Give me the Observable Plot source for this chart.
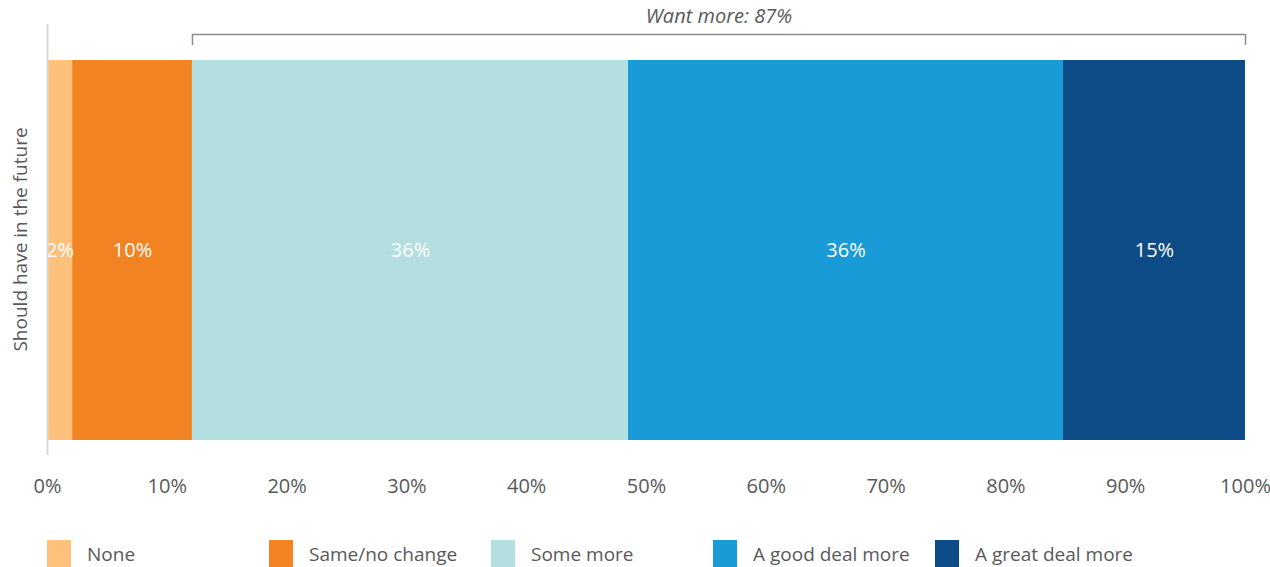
<!DOCTYPE html>
<html><head><meta charset="utf-8">
<script src="https://cdn.jsdelivr.net/npm/d3@7"></script>
<script src="https://cdn.jsdelivr.net/npm/@observablehq/plot@0.6"></script>
<style>
body{margin:0;background:#fff;font-family:"Open Sans",sans-serif;overflow:hidden;}
#legend{position:relative;height:42px;}
.item{position:absolute;top:15px;display:flex;align-items:center;font-size:19px;color:#595959;white-space:nowrap;}
.sw{width:24px;height:27px;margin-right:16px;flex:none;}
</style></head><body>
<div id="chart"></div><div id="legend"></div>
<script>
const categories = ["None", "Same/no change", "Some more", "A good deal more", "A great deal more"];
const values = [2.1, 10, 36.4, 36.3, 15.2];
const colors = ["#FDC17C", "#F28322", "#B3DFE0", "#189BD7", "#0E4C87"];
const tickValues = [0, 10, 20, 30, 40, 50, 60, 70, 80, 90, 100];
const rowLabel = "Should have in the future";
const wantMoreLabel = "Want more: 87%";
const wantMoreCategories = ["Some more", "A good deal more", "A great deal more"];

const data = categories.map((c, i) => ({category: c, value: values[i], label: Math.round(values[i]) + "%"}));
let cum = 0;
const starts = data.map(d => { const s = cum; cum += d.value; return s; });
const wantStart = starts[categories.indexOf(wantMoreCategories[0])];
const wantEnd = cum;
const grey = "#595959";

const chart = Plot.plot({
  width: 1270, height: 525,
  marginLeft: 47, marginRight: 25, marginTop: 60, marginBottom: 85,
  style: {fontFamily: "'Open Sans', sans-serif", fontSize: "20px", color: grey, background: "white", overflow: "visible"},
  x: {domain: [0, 100], ticks: tickValues, tickFormat: d => d + "%", tickSize: 0, tickPadding: 38, label: null},
  y: {domain: [0, 1], axis: null},
  color: {domain: categories, range: colors},
  marks: [
    Plot.barX(data, Plot.stackX({x: "value", fill: "category"})),
    Plot.text(data, Plot.stackX({x: "value", text: "label", fill: "white", fontSize: 20})),
    Plot.ruleX([0], {stroke: "#d9d9d9", strokeWidth: 2, insetTop: -36, insetBottom: -15}),
    Plot.ruleY([1], {x1: wantStart, x2: wantEnd, dy: -26, stroke: "#8c8c8c", strokeWidth: 1.5}),
    Plot.ruleX([wantStart, wantEnd], {stroke: "#8c8c8c", strokeWidth: 1.5, insetTop: -26, insetBottom: 395}),
    Plot.text([wantMoreLabel], {x: (wantStart + wantEnd) / 2, y: 1, dy: -44, text: d => d, fontStyle: "italic", fill: grey, fontSize: 20}),
    Plot.text([rowLabel], {frameAnchor: "left", dx: -27, dy: -11, rotate: -90, textAnchor: "middle", text: d => d, fill: grey, fontSize: 19})
  ]
});
document.getElementById("chart").appendChild(chart);

const legend = document.getElementById("legend");
categories.forEach((c, i) => {
  const item = document.createElement("div");
  item.className = "item";
  item.style.left = (47 + 222 * i) + "px";
  item.innerHTML = `<span class="sw" style="background:${colors[i]}"></span><span>${c}</span>`;
  legend.appendChild(item);
});
</script>
</body></html>
